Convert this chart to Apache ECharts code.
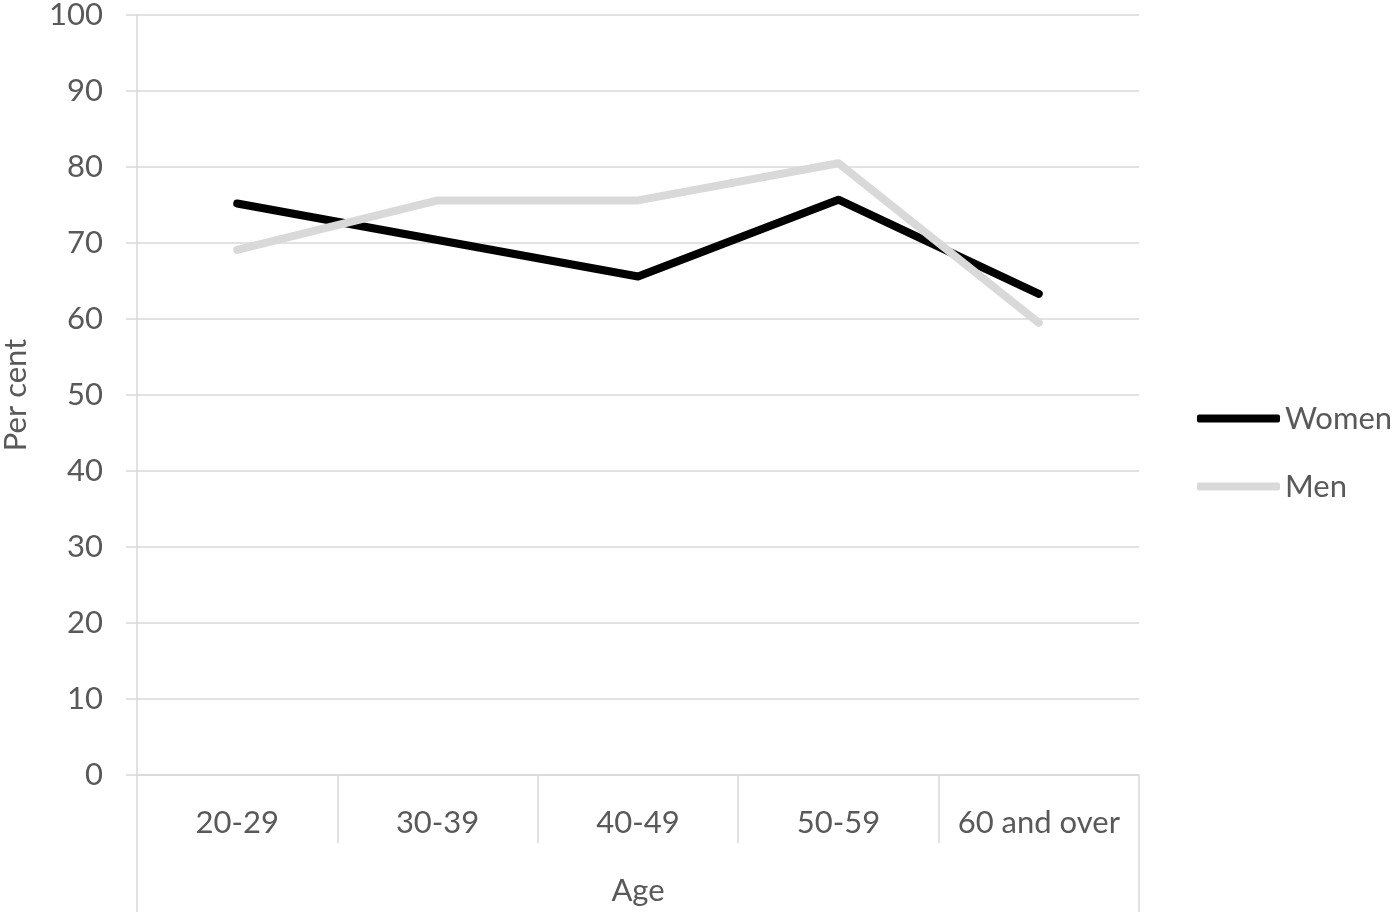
<!DOCTYPE html>
<html>
<head>
<meta charset="utf-8">
<script src="https://cdn.jsdelivr.net/npm/echarts@6/dist/echarts.min.js"></script>
<style>html,body{margin:0;padding:0;background:#fff}#c{width:1400px;height:916px}</style>
</head>
<body>
<div id="c"></div>
<script>
const categories = ['20-29', '30-39', '40-49', '50-59', '60 and over'];
const women = [75.2, 70.4, 65.6, 75.7, 63.3];
const men = [69.1, 75.6, 75.6, 80.5, 59.5];
const yTicks = { min: 0, max: 100, interval: 10 };

const font = 'Lato';
const txt = '#595959';
const gridCol = '#d9d9d9';
const fs = 31;

const chart = echarts.init(document.getElementById('c'), null, { renderer: 'canvas' });
chart.setOption({
  animation: false,
  backgroundColor: '#fff',
  grid: { left: 137, right: 261, top: 15, bottom: 141, containLabel: false, outerBoundsMode: 'none' },
  legend: {
    orient: 'vertical',
    left: 1197,
    top: 403,
    padding: 0,
    itemWidth: 83,
    itemHeight: 8,
    itemGap: 37,
    icon: 'roundRect',
    data: ['Women', 'Men'],
    textStyle: { fontFamily: font, fontSize: fs, color: txt, padding: [0, 0, 0, 0], lineHeight: 30 }
  },
  xAxis: [
    {
      type: 'category',
      data: categories,
      boundaryGap: true,
      axisLine: { show: true, lineStyle: { color: gridCol, width: 1.5 } },
      axisTick: { show: true, interval: 0, length: 68, lineStyle: { color: gridCol, width: 1.5 } },
      axisLabel: { interval: 0, margin: 32, fontFamily: font, fontSize: fs, color: txt },
      splitLine: { show: false }
    },
    {
      type: 'category',
      data: [''],
      position: 'bottom',
      boundaryGap: true,
      axisLine: { show: false },
      axisTick: { show: true, length: 137, lineStyle: { color: gridCol, width: 1.5 } },
      axisLabel: { show: false },
      name: 'Age',
      nameLocation: 'middle',
      nameGap: 100,
      nameTextStyle: { fontFamily: font, fontSize: fs, color: txt }
    }
  ],
  yAxis: {
    type: 'value',
    min: yTicks.min,
    max: yTicks.max,
    interval: yTicks.interval,
    axisLine: { show: true, lineStyle: { color: gridCol, width: 1.5 } },
    axisTick: { show: true, length: 11, lineStyle: { color: gridCol, width: 1.5 } },
    axisLabel: { margin: 34, fontFamily: font, fontSize: fs, color: txt },
    splitLine: { show: true, lineStyle: { color: gridCol, width: 1.5 } },
    name: 'Per cent',
    nameLocation: 'middle',
    nameGap: 106,
    nameRotate: 90,
    nameTextStyle: { fontFamily: font, fontSize: fs, color: txt }
  },
  series: [
    {
      name: 'Women', type: 'line', data: women, xAxisIndex: 0,
      showSymbol: false, symbol: 'none', smooth: false,
      lineStyle: { color: '#000000', width: 8, cap: 'round', join: 'round' },
      itemStyle: { color: '#000000' }
    },
    {
      name: 'Men', type: 'line', data: men, xAxisIndex: 0,
      showSymbol: false, symbol: 'none', smooth: false,
      lineStyle: { color: '#d9d9d9', width: 8, cap: 'round', join: 'round' },
      itemStyle: { color: '#d9d9d9' }
    }
  ]
});
</script>
</body>
</html>
